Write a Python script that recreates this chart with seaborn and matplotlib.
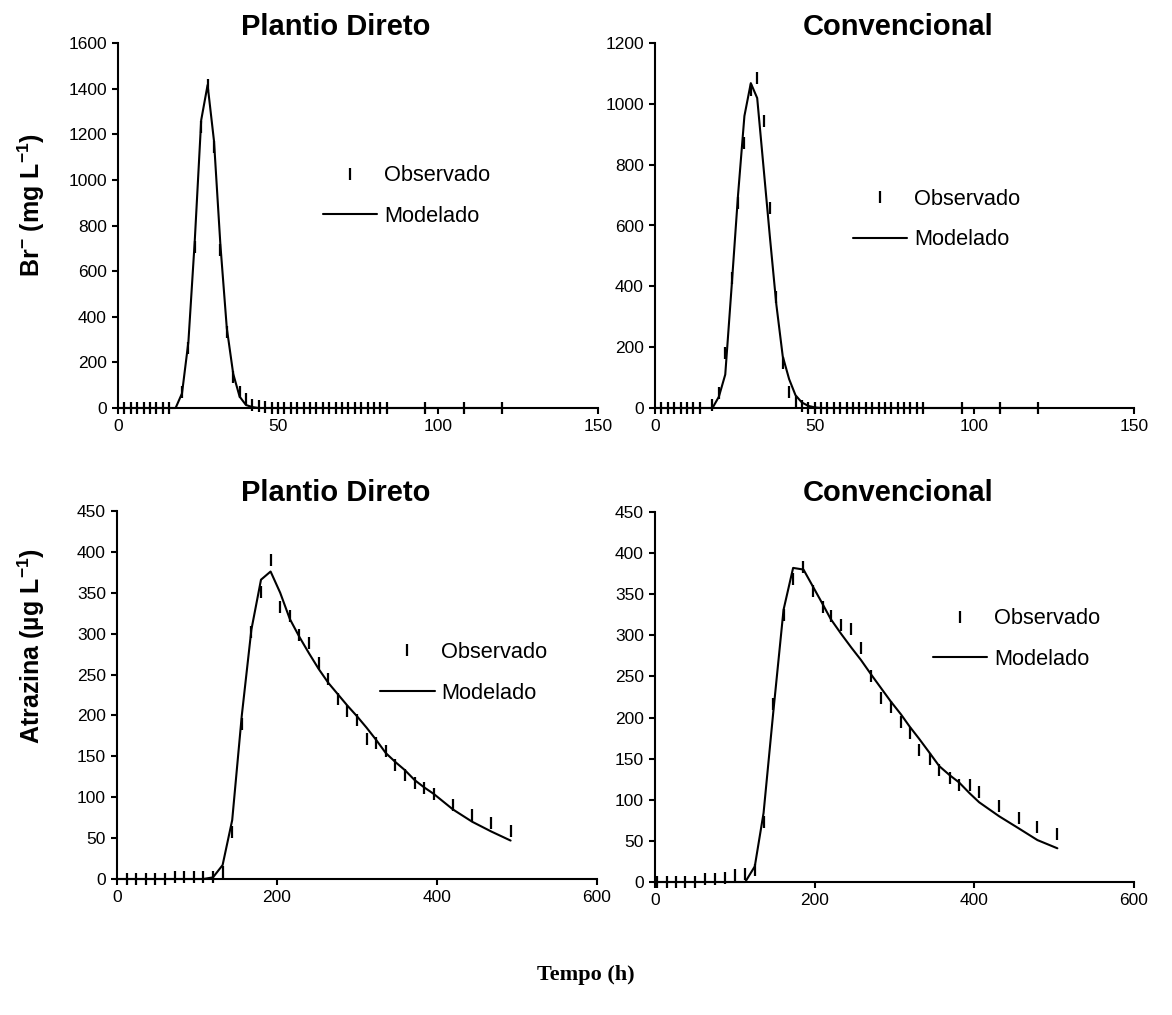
import matplotlib
matplotlib.use("Agg")
import matplotlib.pyplot as plt
from matplotlib.lines import Line2D
import seaborn as sns
import pandas as pd

sns.set_theme(style="ticks")
plt.rcParams["font.family"] = ["Liberation Sans", "DejaVu Sans"]
plt.rcParams["mathtext.fontset"] = "custom"
plt.rcParams["mathtext.rm"] = "Liberation Sans"
plt.rcParams["mathtext.bf"] = "Liberation Sans:bold"
plt.rcParams["mathtext.it"] = "Liberation Sans:italic"
plt.rcParams["text.color"] = "black"
plt.rcParams["axes.labelcolor"] = "black"
plt.rcParams["xtick.color"] = "black"
plt.rcParams["ytick.color"] = "black"

# ---------------- Brometo, Plantio Direto ----------------
br_pd_obs_t = [2, 4, 6, 8, 10, 12, 14, 16, 20, 22, 24, 26, 28, 30, 32, 34, 36, 38,
               40, 42, 44, 46, 48, 50, 52, 54, 56, 58, 60, 62, 64, 66, 68, 70, 72,
               74, 76, 78, 80, 82, 84, 96, 108, 120]
br_pd_obs_v = [0, 0, 0, 0, 0, 0, 0, 0, 71, 263, 707, 1233, 1416, 1145, 693, 334, 137, 71,
               39, 12, 8, 5, 0, 0, 0, 0, 0, 0, 0, 0, 0, 0, 0, 0, 0,
               0, 0, 0, 0, 0, 0, 0, 0, 0]
br_pd_mod_t = [0, 18, 20, 22, 24, 26, 28, 30, 32, 34, 36, 38, 40, 42, 44, 60, 84, 120]
br_pd_mod_v = [0, 0, 64, 290, 736, 1262, 1416, 1170, 715, 350, 150, 50, 13, 4, 0, 0, 0, 0]

# ---------------- Brometo, Convencional ----------------
br_cv_obs_t = [2, 4, 6, 8, 10, 12, 14, 18, 20, 22, 24, 26, 28, 30, 32, 34, 36, 38, 40,
               42, 44, 46, 48, 50, 52, 54, 56, 58, 60, 62, 64, 66, 68, 70, 72, 74,
               76, 78, 80, 82, 84, 96, 108, 120]
br_cv_obs_v = [0, 0, 0, 0, 0, 0, 0, 10, 48, 180, 426, 673, 871, 1046, 1084, 942, 657, 366, 147,
               54, 21, 8, 0, 0, 0, 0, 0, 0, 0, 0, 0, 0, 0, 0, 0, 0,
               0, 0, 0, 0, 0, 0, 0, 0]
br_cv_mod_t = [0, 18, 20, 22, 24, 26, 28, 30, 32, 34, 36, 38, 40, 42, 44, 46, 48, 50, 52, 84, 120]
br_cv_mod_v = [0, 0, 37, 110, 400, 700, 960, 1068, 1019, 790, 560, 340, 170, 95, 42, 18, 7, 2, 0, 0, 0]

# ---------------- Atrazina, Plantio Direto ----------------
at_pd_obs_t = [12, 24, 36, 48, 60, 72, 84, 96, 108, 120, 132, 144, 156, 168, 180, 192,
               204, 216, 228, 240, 252, 264, 276, 288, 300, 312, 324, 336, 348, 360,
               372, 384, 396, 420, 444, 468, 492]
at_pd_obs_v = [0, 0, 0, 0, 0, 3, 3, 3, 3, 3, 9, 58, 190, 302, 351, 390,
               333, 321, 298, 289, 264, 245, 220, 206, 194, 171, 166, 156, 139, 127,
               118, 111, 104, 90, 78, 68, 59]
at_pd_mod_t = [0, 108, 120, 132, 144, 156, 168, 180, 192, 204, 216, 228, 240, 252, 264,
               276, 288, 300, 312, 324, 336, 348, 360, 372, 384, 396, 420, 444, 468, 492]
at_pd_mod_v = [0, 0, 2, 17, 72, 200, 305, 366, 376, 350, 318, 296, 276, 257, 240,
               226, 212, 199, 185, 170, 154, 143, 133, 121, 112, 104, 85, 70, 58, 47]

# ---------------- Atrazina, Convencional ----------------
at_cv_obs_t = [3, 15, 26, 38, 50, 63, 75, 88, 100, 113, 125, 136, 148, 161, 173, 186,
               198, 210, 220, 233, 246, 258, 271, 283, 295, 308, 319, 331, 344, 356,
               369, 381, 394, 406, 431, 456, 479, 504]
at_cv_obs_v = [0, 0, 0, 0, 0, 4, 4, 5, 8, 10, 14, 73, 217, 325, 369, 383,
               354, 335, 323, 313, 308, 284, 250, 224, 213, 195, 181, 161, 150, 136,
               126, 118, 118, 109, 92, 78, 67, 58]
at_cv_mod_t = [0, 113, 125, 136, 148, 161, 173, 186, 198, 210, 220, 233, 246, 258, 271,
               283, 295, 308, 319, 331, 344, 356, 369, 381, 394, 406, 431, 456, 479, 504]
at_cv_mod_v = [0, 0, 19, 84, 205, 331, 382, 380, 359, 338, 320, 302, 285, 270, 252,
               236, 220, 204, 189, 174, 157, 141, 130, 121, 108, 97, 80, 65, 51, 41]

W, H = 1172, 1015
fig = plt.figure(figsize=(W / 100, H / 100), dpi=100)


def px_axes(x0, x1, ytop, ybot):
    return fig.add_axes([x0 / W, 1 - ybot / H, (x1 - x0) / W, (ybot - ytop) / H])


panels = [
    dict(box=(118, 598, 43, 408), obs=(br_pd_obs_t, br_pd_obs_v), mod=(br_pd_mod_t, br_pd_mod_v),
         xlim=150, xstep=50, ylim=1600, ystep=200, leg=(0.427, 0.580)),
    dict(box=(655, 1134, 43, 408), obs=(br_cv_obs_t, br_cv_obs_v), mod=(br_cv_mod_t, br_cv_mod_v),
         xlim=150, xstep=50, ylim=1200, ystep=200, leg=(0.413, 0.516)),
    dict(box=(117, 597, 511, 879), obs=(at_pd_obs_t, at_pd_obs_v), mod=(at_pd_mod_t, at_pd_mod_v),
         xlim=600, xstep=200, ylim=450, ystep=50, leg=(0.548, 0.560)),
    dict(box=(655, 1134, 512, 882), obs=(at_cv_obs_t, at_cv_obs_v), mod=(at_cv_mod_t, at_cv_mod_v),
         xlim=600, xstep=200, ylim=450, ystep=50, leg=(0.580, 0.656)),
]

legend_handles = [
    Line2D([], [], marker="|", linestyle="None", color="black", markersize=9, markeredgewidth=1.6),
    Line2D([], [], color="black", linewidth=1.5),
]

for p in panels:
    ax = px_axes(*p["box"])
    obs = pd.DataFrame({"t": p["obs"][0], "v": p["obs"][1]})
    mod = pd.DataFrame({"t": p["mod"][0], "v": p["mod"][1]})
    sns.lineplot(data=mod, x="t", y="v", ax=ax, color="black", linewidth=1.5, sort=False,
                 clip_on=False, zorder=3)
    sns.scatterplot(data=obs, x="t", y="v", ax=ax, marker="|", s=81, color="black",
                    linewidth=1.6, clip_on=False, zorder=4)
    ax.set_xlim(0, p["xlim"])
    ax.set_ylim(0, p["ylim"])
    ax.set_xticks(range(0, p["xlim"] + 1, p["xstep"]))
    ax.set_yticks(range(0, p["ylim"] + 1, p["ystep"]))
    ax.set_xlabel("")
    ax.set_ylabel("")
    for s in ("top", "right"):
        ax.spines[s].set_visible(False)
    for s in ("left", "bottom"):
        ax.spines[s].set_linewidth(1.5)
        ax.spines[s].set_color("black")
    ax.tick_params(direction="out", length=4, width=1.5, color="black",
                   labelsize=12.5, pad=4, labelcolor="black")
    ax.set_facecolor("none")
    ax.legend(legend_handles, ["Observado", "Modelado"], loc="center left",
              bbox_to_anchor=p["leg"], frameon=False, fontsize=15.7, borderpad=0,
              borderaxespad=0, handlelength=2.5, handletextpad=0.3, labelspacing=0.9)

# panel titles
title_kw = dict(fontsize=21, fontweight="bold", ha="center", va="center", color="black")
fig.text(336 / W, 1 - 27 / H, "Plantio Direto", **title_kw)
fig.text(898 / W, 1 - 27 / H, "Convencional", **title_kw)
fig.text(336 / W, 1 - 493 / H, "Plantio Direto", **title_kw)
fig.text(898 / W, 1 - 493 / H, "Convencional", **title_kw)

# y-axis labels
fig.text(31 / W, 1 - 205 / H, r"Br$^{\mathbf{-}}$ (mg L$^{\mathbf{-1}}$)", rotation=90,
         fontsize=18, fontweight="bold", ha="center", va="center", color="black")
fig.text(31 / W, 1 - 646 / H, r"Atrazina (µg L$^{\mathbf{-1}}$)", rotation=90,
         fontsize=18, fontweight="bold", ha="center", va="center", color="black")

# shared x-axis label
fig.text(586 / W, 1 - 975 / H, "Tempo (h)", fontsize=16, fontweight="bold", color="black",
         family=["Liberation Serif", "DejaVu Serif"], ha="center", va="center")

fig.savefig("out.png", dpi=100, facecolor="white")
